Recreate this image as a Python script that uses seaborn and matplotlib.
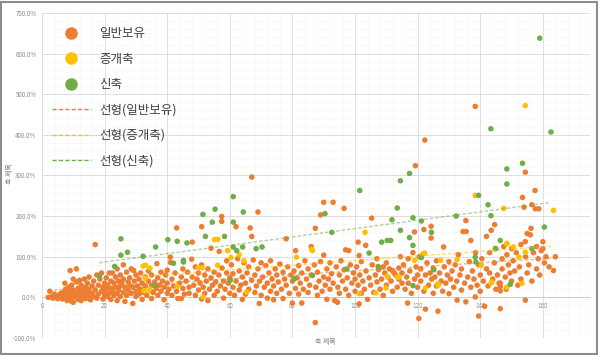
import pandas as pd
import matplotlib
matplotlib.use("Agg")
import matplotlib.pyplot as plt
import seaborn as sns
from matplotlib.lines import Line2D
from matplotlib.patches import Rectangle
from matplotlib.ticker import MultipleLocator, FuncFormatter

# 일반보유 (x: 축 제목, y: %)
orange_x = [2, 3, 3.5, 4, 4.5, 5, 5, 4, 2.5,
            5.5, 6, 6, 6.5, 7, 7, 7.3, 7.5, 8, 8, 8.5, 8.5, 9, 9, 9, 9.5, 9.5, 10, 10, 10, 10,
            10.5, 11, 11, 11, 11.5, 11.5, 12, 12, 12, 12.5, 12.5, 13, 13, 13.5, 13.5, 14, 14, 14.5, 14.5, 15, 15, 15,
            15.5, 16, 16, 16.5, 16.5, 17, 17, 17.5, 17.5, 18, 18, 18.5, 19, 19, 19.5, 19.5, 20, 20, 20,
            20.5, 20.5, 21, 21, 21.5, 21.5, 22, 22, 22, 22.5, 22.5, 23, 23, 23.5, 23.5, 24, 24, 24, 24.5, 24.5, 25, 25, 25,
            25.5, 26, 26, 26, 26.5, 26.5, 27, 27, 27.5, 27.5, 28, 28, 28.5, 28.5, 29, 29, 29.3, 29.5, 30, 30, 30,
            30.5, 31, 31, 31.5, 31.5, 32, 32, 32.5, 33, 33, 33.5, 34, 34, 34.5, 35, 35, 35,
            35.5, 36, 36.7, 36.5, 37, 37, 37.5, 38, 38, 38.5, 39, 39, 39.5, 40, 40, 40,
            40.5, 41, 41, 41.5, 41.5, 42, 42.5, 43, 43, 43.4, 44, 44.5, 44.5, 45, 45,
            45.5, 46, 46.5, 47, 47.8, 47, 48, 48, 48.5, 49, 49, 49.5, 50, 50,
            50.5, 51, 51, 51, 51.5, 52, 52, 52.5, 53, 53, 53.5, 54, 54, 54.5, 55, 55,
            55.5, 56, 56.6, 56.5, 57, 57.4, 57.4, 57.5, 58, 58, 58.5, 59, 59, 59.5, 60, 60,
            60.5, 61, 61, 61.5, 62, 62, 62.5, 63, 63, 63.5, 64, 64, 64.5, 65, 65,
            65.5, 66, 66.5, 66, 67, 67, 67, 67.5, 68, 68, 68.5, 69, 69, 69.4, 69.5, 70, 70,
            70.5, 71, 71.5, 72, 72, 72.5, 73, 73, 73.5, 74, 74, 74.5, 75, 75,
            75.5, 76, 76.5, 77, 77, 77.5, 78, 78, 78.5, 79, 79.5, 80, 80,
            80.5, 81, 81, 81.5, 82, 82, 82.5, 83, 83, 83.5, 84, 84.5, 85, 85,
            85.5, 86, 86, 87, 87.3, 87.3, 87.5, 88, 88, 88.5, 89, 89, 89.5, 90, 90, 90,
            90.5, 91, 91, 91.5, 92, 92, 92.5, 93, 93, 93.5, 94, 94.4, 94.5, 95, 95,
            95.5, 96, 96.5, 96.5, 97, 97, 97.5, 98, 98, 98.5, 99, 99.5, 100, 100,
            100.5, 101, 101, 101.3, 101.3, 101.5, 102, 102, 102.5, 103, 103.4, 103.5, 104, 104.5, 105, 105.3,
            105.5, 106, 106.5, 107, 107, 107.5, 108, 108.5, 109, 109, 109.5, 110, 110,
            110.5, 111, 111.5, 112, 112, 112.5, 113, 113.5, 114, 114, 114.5, 115, 115,
            115.5, 116, 116.8, 116.5, 117, 117, 117.5, 118, 118.5, 119, 119.3, 119, 119.5, 120, 120, 120.4,
            120.5, 121, 121, 122, 122.3, 122, 122.5, 122.5, 123, 123.5, 124, 124.3, 124.3, 124.5, 125, 125,
            125.5, 126, 126.5, 126, 127, 127.5, 128, 128.3, 128.5, 129, 129.5, 130, 130,
            130.5, 131, 131.5, 132, 132.6, 132.5, 133, 133.5, 134, 134.5, 134, 135, 135.4, 135.4,
            135.5, 136, 136.5, 137, 137, 137.5, 138, 138.4, 138.4, 138.5, 139, 139.5, 139.5, 140, 140,
            140.5, 141, 141.4, 142, 142, 142.5, 143, 143.5, 143, 144, 144.6, 144.5, 145, 145,
            145.5, 146, 146.4, 146.4, 146.4, 146.4, 147, 147, 147.5, 148, 148.3, 148.5, 149, 149.5, 150, 150,
            150.5, 151, 151.5, 152, 152.5, 153, 153.5, 153, 154, 154.4, 154.4, 154.4, 154.5, 155, 155,
            155.5, 156, 156.2, 156.5, 156.5, 157, 157.5, 157.6, 158, 158.7, 158, 158.5, 159, 159.5, 160, 160,
            160.5, 161, 162, 163.4, 164]
orange_y = [0, 1, -2, 3, 0, 2, -3, 8, 15,
            5, 0, 10, -4, 2, 12, 35, 20, 5, -8, 15, 25, 0, 66, 8, -10, 30, 3, 18, -12, 45,
            10, 70, 38, 0, 22, -5, 42, 12, 5, 30, -8, 18, 2, 45, 8, 25, -3, 12, 35, 50, 5, 20,
            -6, 28, 10, 40, 2, 130, 18, 55, -2, 30, 8, 45, 15, 60, -4, 25, 35, 5, 12,
            48, 20, 2, 30, 60, 10, 40, -5, 22, 60, 15, 35, 5, 50, 25, 10, 70, -8, 40, 18, 55, 28, 2,
            35, 80, 12, 45, -10, 25, 62, 5, 38, 18, 30, 48, 10, 70, 25, -15, 66, 40, 15, 55, 2,
            28, 45, 8, 60, 20, 35, -5, 12, 50, 28, 5, 40, 65, 18, 30, -3, 55,
            12, 38, 83, 22, 48, 5, 30, 62, 15, 40, 25, -6, 55, 67, 10, 35,
            20, 99, 86, 45, 5, 28, 60, 171, 15, -3, 35, -3, 50, 22, 70,
            8, 40, 62, 25, 94, 10, 136, 50, 30, 75, 5, 45, 18, 60,
            35, 174, 80, -4, 25, 55, 10, 40, 70, -8, 20, 121, 48, 30, 62, 5,
            38, 15, 113, 55, 28, 187, 199, 72, 40, -2, 20, 60, 90, 35, 10, 48,
            80, 25, 58, 5, 174, 40, 95, 18, 65, 30, 50, -5, 85, 35, 8,
            60, 20, 171, 75, 296, 150, 42, 92, 12, 55, 28, 210, 70, -15, 40, 85, 5,
            50, 25, 78, 35, -2, 60, 15, 90, 45, -6, 28, 70, 55, 10,
            38, 82, 20, 62, -3, 45, 144, 30, 75, 10, 55, 40, -14,
            65, 115, 22, 48, 8, 78, 35, -14, 60, 20, 90, 45, 12, 70,
            30, 125, 55, 80, 170, -62, 25, 62, 5, 40, 203, 88, 15, 104, 234, 50,
            30, 70, -5, 45, 20, 85, 58, 234, 35, -8, 75, -12, 25, 55, 10,
            90, 40, 219, 68, 117, 20, 48, 115, 5, 80, 35, 60, 15, 45,
            75, 136, 30, 103, -16, 55, 10, 88, 40, 20, 128, 65, -5, 48, 30, 195,
            80, 12, 55, 38, 95, 68, 20, 45, 75, 5, 60, 30, 85,
            50, 70, 40, 65, 15, 60, 55, 25, 72, 45, 100, 35, 60,
            80, 20, -14, 50, 95, 35, 65, 10, 110, 45, 324, 161, 75, 25, 55, -52,
            100, 40, 70, 167, 387, 15, -29, 55, 85, 30, 60, 146, 175, 45, 10, 72,
            50, 28, -34, 90, 60, 40, 15, 124, 75, 35, 55, 9, 88,
            45, 65, 25, 80, -7, 40, 105, 55, 18, 162, 70, 35, 189, -11,
            162, 50, 88, 140, 25, 65, 45, 470, 1, 110, 30, -46, 80, 55, 15,
            95, 40, -22, 150, 70, 28, 60, 165, 110, 45, 179, 85, 20, 120,
            55, 35, -28, 16, 27, 35, 95, 70, 125, 50, 20, 105, 80, 60, 120, 40,
            90, 65, 110, 30, 75, 45, 246, 130, 222, 137, 308, -7, 100, 157, 60,
            80, 154, 170, 228, 40, 110, 263, 218, 125, 218, 70, 95, 55, 115, 120, 137,
            85, 100, 75, 66, 100]

# 증개축
yellow_x = [32.3, 33.1, 34.5, 33, 32.6, 34.3, 43.2, 49.9, 51.2, 51.4,
            55.1, 56.2, 56.1, 59.3, 60.4, 63, 64.5, 65.4, 81.3, 86.4,
            86.2, 101.3, 103.2, 106.6, 109.9, 110.3, 113.5, 114, 119, 121.7,
            122.3, 122.5, 126.5, 126.6, 127.3, 132.6, 138.4, 140.3, 143.5, 143.7,
            147.5, 148.5, 148.5, 148.5, 150.6, 152.4, 153.3, 154.4, 154.4, 163.4]
yellow_y = [77, 79, 72, 47, 16, 20, 27, 73, 73, 1,
            142, 143, 79, 115, 98, 105, 90, 13, 99, 115,
            118, 9, 160, 11, 23, 52, 50, 50, 91, 107,
            109, 23, 34, 30, 91, 93, 251, 79, 35, 38,
            219, 131, 133, 25, 124, 99, 34, 111, 472, 214]

# 신축
green_x = [18.3, 23.2, 25.2, 25.2, 27.3, 32.3, 36.3, 36, 40.2, 42,
           43.2, 45.2, 45.2, 46.3, 51.4, 52.2, 54.4, 55.3, 58.3, 60.1,
           61.1, 61.1, 61.1, 62.2, 64.1, 64.3, 68.4, 70.3, 80.6, 86.4,
           90.4, 92.6, 97.4, 101.5, 104.5, 107.4, 108.5, 110.3, 111.4, 111.8,
           113.5, 114.5, 114.5, 117.4, 117.4, 118.5, 118.5, 118.5, 121.2, 121.2,
           124.4, 125.2, 132.3, 138.4, 138.6, 139.5, 142.5, 143.4, 143.4, 144.8,
           146.4, 148.5, 148.5, 149.6, 153.5, 156.5, 159, 160.5, 162.6]
green_y = [53, 76, 144, 104, 111, 101, 124, 29, 142, 84,
           138, 91, 87, 134, 204, 150, 185, 217, 150, 42,
           248, 185, 124, 115, 124, 210, 120, 124, 46, 54,
           206, 160, 70, 263, 109, 76, 136, 140, 140, 191,
           220, 287, 165, 305, 147, 196, 128, 29, 188, 98,
           160, 68, 200, 99, 87, 251, 228, 201, 415, 120,
           140, 316, 279, 32, 330, 120, 638, 173, 407]

series_names = ['일반보유', '증개축', '신축']
colors = {'일반보유': '#ED7D31', '증개축': '#FFC000', '신축': '#70AD47'}

df = pd.concat([
    pd.DataFrame({'x': orange_x, 'y': orange_y, 'type': '일반보유'}),
    pd.DataFrame({'x': yellow_x, 'y': yellow_y, 'type': '증개축'}),
    pd.DataFrame({'x': green_x, 'y': green_y, 'type': '신축'}),
], ignore_index=True)

sns.set_theme(style='white')
plt.rcParams['font.family'] = ['Noto Sans CJK KR', 'DejaVu Sans']

fig = plt.figure(figsize=(6, 3.56), dpi=100)
ax = fig.add_axes([0.07, 0.0506, 0.913, 0.913])

sns.scatterplot(data=df, x='x', y='y', hue='type', palette=colors, hue_order=series_names,
                s=16, linewidth=0, legend=False, ax=ax, zorder=3)

# linear trend lines
for name in series_names:
    sub = df[df['type'] == name]
    sns.regplot(data=sub, x='x', y='y', scatter=False, ci=None, ax=ax, color=colors[name],
                line_kws={'lw': 1, 'ls': (0, (2.5, 1.5)), 'alpha': 0.55, 'zorder': 4})

ax.set_xlim(0, 175)
ax.set_ylim(-100, 700)
ax.xaxis.set_major_locator(MultipleLocator(20))
ax.xaxis.set_minor_locator(MultipleLocator(4))
ax.yaxis.set_major_locator(MultipleLocator(100))
ax.yaxis.set_minor_locator(MultipleLocator(20))
ax.yaxis.set_major_formatter(FuncFormatter(lambda v, p: f'{v:.1f}%'))
ax.grid(which='major', color='#d9d9d9', lw=0.6)
ax.grid(which='minor', color='#f5f5f5', lw=0.4)
ax.set_axisbelow(True)

for side in ['top', 'right', 'left']:
    ax.spines[side].set_visible(False)
ax.spines['bottom'].set_position(('data', 0))
ax.spines['bottom'].set_color('#c8c8c8')
ax.spines['bottom'].set_linewidth(0.6)
ax.tick_params(which='both', length=0)
ax.tick_params(axis='x', labelsize=4.5, labelcolor='#8c8c8c', pad=3)
ax.tick_params(axis='y', labelsize=4.5, labelcolor='#8c8c8c', pad=4)
ax.set_xlabel('')
ax.set_ylabel('')

fig.text(325 / 600, 1 - 342 / 356, '축 제목', ha='center', va='center', fontsize=5, color='#7f7f7f')
fig.text(10 / 600, 1 - 174 / 356, '축 제목', ha='center', va='center', rotation=90,
         fontsize=5, color='#7f7f7f')

handles = [Line2D([], [], marker='o', ls='none', markersize=8, markerfacecolor=colors[n],
                  markeredgecolor=colors[n]) for n in series_names]
handles += [Line2D([], [], color=colors[n], lw=1, ls=(0, (3, 1.6))) for n in series_names]
labels = series_names + ['선형(' + n + ')' for n in series_names]
fig.legend(handles, labels, loc='upper left', bbox_to_anchor=(52 / 600, 1 - 27 / 356),
           frameon=False, fontsize=9, handlelength=3.1, handletextpad=0.7,
           labelspacing=1.0, borderpad=0, borderaxespad=0, labelcolor='#404040')

fig.add_artist(Rectangle((1 / 600, 2 / 356), 596 / 600, 352 / 356, transform=fig.transFigure,
                         fill=False, ec='#8c8c8c', lw=1.5))

fig.savefig('out.png', dpi=100)
